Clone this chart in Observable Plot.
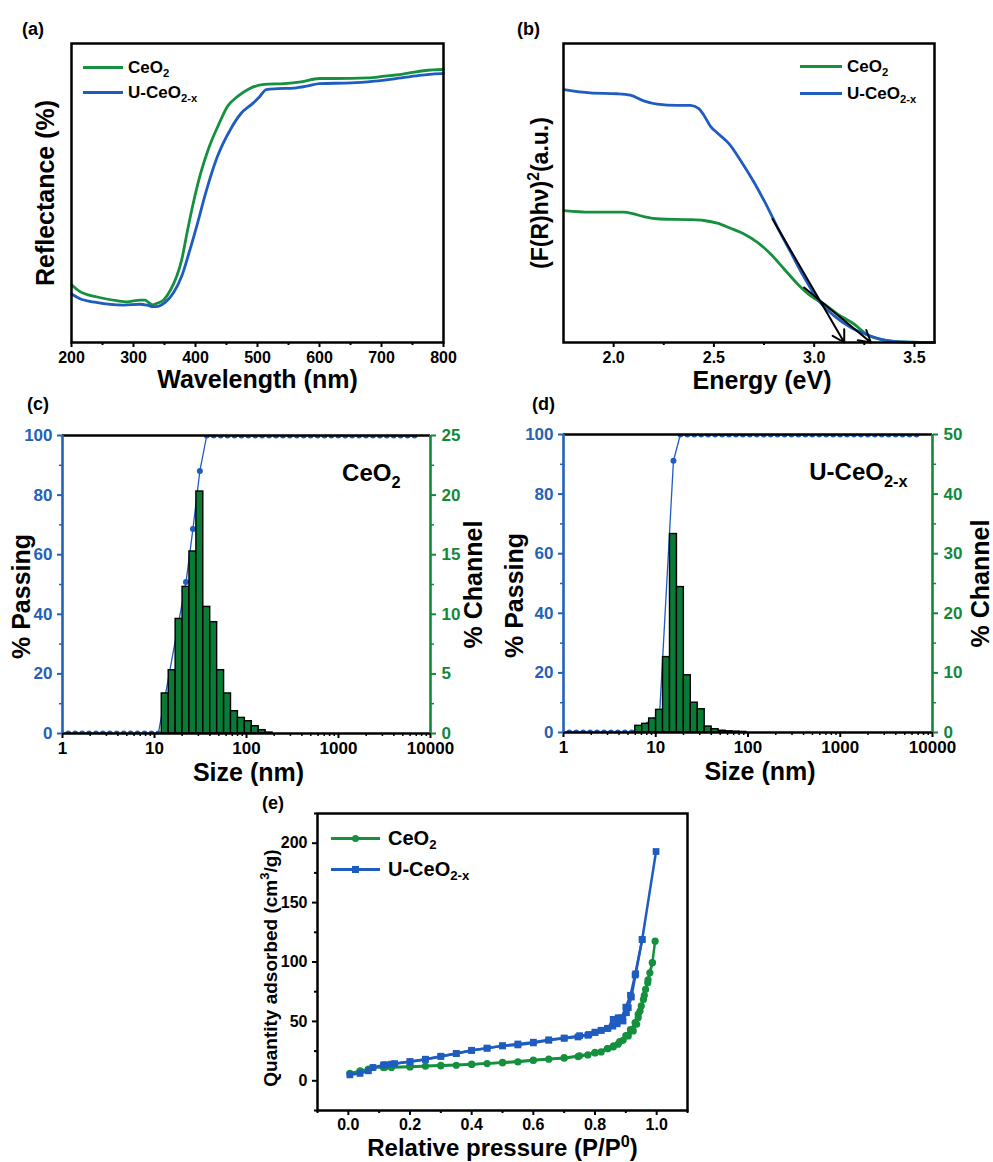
<!DOCTYPE html>
<html><head><meta charset="utf-8">
<script src="https://cdn.jsdelivr.net/npm/d3@7"></script>
<script src="https://cdn.jsdelivr.net/npm/@observablehq/plot@0.6"></script>
<style>
html,body{margin:0;padding:0;background:#fff;}
#fig{position:relative;width:993px;height:1162px;background:#fff;font-family:"Liberation Sans",Arial,Helvetica,sans-serif;font-weight:bold;color:#000;overflow:hidden;}
.tag{position:absolute;font-size:18px;line-height:1;}
.leg{position:absolute;display:flex;align-items:center;white-space:nowrap;line-height:1;height:24px;}
.leg .sw{position:relative;height:3px;flex:none;}
.leg sub{font-size:0.66em;vertical-align:-0.32em;line-height:0;}
</style></head><body><div id="fig"></div>
<script>
// ---------------- DATA ----------------
// (a) Reflectance spectra (arbitrary %, 0 = frame bottom, 100 = frame top)
const waveCe = [200, 213, 240, 273, 289, 311, 319, 324, 331, 338, 349, 359, 370, 378, 386, 395, 408, 422, 438, 451, 468, 486, 511, 543, 570, 600, 624, 678, 705, 732, 765, 797, 800];
const reflCe = [19.3, 17.1, 15.3, 14.0, 13.6, 14.2, 14.2, 13.4, 12.6, 13.1, 14.3, 17.3, 22.3, 27.9, 36.3, 45.3, 56.4, 65.4, 73.2, 78.8, 82.3, 84.8, 86.3, 86.6, 87.2, 88.3, 88.3, 88.5, 89.1, 89.7, 90.8, 91.3, 91.3];
const waveU = [200, 213, 240, 284, 311, 322, 332, 341, 351, 365, 378, 389, 403, 416, 435, 457, 473, 492, 503, 514, 532, 559, 581, 600, 651, 689, 732, 765, 797, 800];
const reflU = [16.2, 14.7, 13.4, 12.5, 12.8, 12.5, 12.0, 12.2, 13.4, 16.8, 22.3, 29.6, 39.7, 49.7, 62.0, 71.5, 76.5, 79.9, 82.1, 84.6, 84.9, 85.1, 85.8, 86.6, 86.8, 87.4, 88.5, 89.4, 89.9, 89.9];

// (b) Tauc plot
const energyU = [1.753, 1.883, 2.017, 2.083, 2.15, 2.217, 2.317, 2.383, 2.425, 2.45, 2.483, 2.517, 2.575, 2.633, 2.7, 2.767, 2.817, 2.883, 2.95, 3.017, 3.1, 3.183, 3.267, 3.35, 3.467, 3.6];
const taucU = [84.6, 83.5, 83.2, 82.7, 80.8, 79.7, 79.3, 79.3, 78.2, 76.0, 72.3, 70.1, 66.5, 60.9, 53.6, 45.3, 38.5, 30.2, 21.8, 14.5, 8.9, 5.0, 2.5, 0.8, 0.1, 0];
const energyCe = [1.753, 1.883, 2.05, 2.1, 2.15, 2.233, 2.383, 2.45, 2.517, 2.583, 2.65, 2.717, 2.783, 2.85, 2.917, 2.983, 3.05, 3.117, 3.2, 3.267, 3.35, 3.467, 3.6];
const taucCe = [44.1, 43.6, 43.6, 43.0, 42.1, 41.3, 41.1, 40.8, 39.9, 38.2, 36.3, 33.5, 29.6, 24.6, 19.6, 15.6, 12.8, 9.5, 6.1, 2.5, 0.8, 0.1, 0];
// tangent (band-gap extrapolation) arrows
const tangentE1 = [2.792, 2.95];
const tangentA1 = [41.3, 18.4];
const tangentE2 = [3.15, 3.283];
const tangentA2 = [0, 0];

// (c) CeO2 size distribution
const chanSizeC = [13.08, 15.56, 18.5, 22.0, 26.16, 31.11, 37.0, 44.0, 52.33, 62.23, 74.0, 88.0, 104.7, 124.5, 148.0, 176.0];
const chanPctC = [3.36, 5.31, 9.61, 12.30, 15.27, 20.30, 10.62, 9.34, 5.31, 3.36, 1.87, 1.31, 1.03, 0.61, 0.28, 0.08];
const passSizeC = [0.972, 1.156, 1.375, 1.635, 1.945, 2.312, 2.75, 3.27, 3.889, 4.625, 5.5, 6.54, 7.778, 9.249, 11.0, 22.0, 26.16, 31.11, 37.0, 44.0, 52.33, 62.23, 74.0, 88.0, 104.7, 124.5, 148.0, 176.0, 209.3, 248.9, 296.0, 352.0, 418.6, 497.8, 592.0, 704.0, 837.2, 995.6, 1184, 1408, 1674, 1991, 2368, 2816, 3349, 3983, 4736, 5632, 6698];
const passPctC = [0, 0, 0, 0, 0, 0, 0, 0, 0, 0, 0, 0, 0, 0, 0, 50.8, 68.6, 88.1, 100, 100, 100, 100, 100, 100, 100, 100, 100, 100, 100, 100, 100, 100, 100, 100, 100, 100, 100, 100, 100, 100, 100, 100, 100, 100, 100, 100, 100, 100, 100];

// (d) U-CeO2-x size distribution
const chanSizeD = [6.54, 7.778, 9.249, 11.0, 13.08, 15.56, 18.5, 22.0, 26.16, 31.11, 37.0, 44.0, 52.33, 62.23, 74.0, 88.0];
const chanPctD = [1.12, 1.45, 2.35, 3.8, 12.65, 33.3, 24.4, 9.6, 5.0, 3.9, 1.0, 0.55, 0.3, 0.2, 0.15, 0.1];
const passSizeD = [0.972, 1.156, 1.375, 1.635, 1.945, 2.312, 2.75, 3.27, 3.889, 4.625, 5.5, 11.0, 15.56, 18.5, 22.0, 26.16, 31.11, 37.0, 44.0, 52.33, 62.23, 74.0, 88.0, 104.7, 124.5, 148.0, 176.0, 209.3, 248.9, 296.0, 352.0, 418.6, 497.8, 592.0, 704.0, 837.2, 995.6, 1184, 1408, 1674, 1991, 2368, 2816, 3349, 3983, 4736, 5632, 6698];
const passPctD = [0, 0, 0, 0, 0, 0, 0, 0, 0, 0, 0, 6, 91.2, 100, 100, 100, 100, 100, 100, 100, 100, 100, 100, 100, 100, 100, 100, 100, 100, 100, 100, 100, 100, 100, 100, 100, 100, 100, 100, 100, 100, 100, 100, 100, 100, 100, 100, 100];

// (e) N2 isotherms
const ceAdsP = [0.005, 0.038, 0.065, 0.08, 0.114, 0.14, 0.2, 0.25, 0.3, 0.35, 0.4, 0.45, 0.5, 0.55, 0.6, 0.65, 0.7, 0.745, 0.777, 0.8, 0.82, 0.842, 0.859, 0.875, 0.891, 0.908, 0.924, 0.935, 0.94, 0.946, 0.957, 0.964, 0.971, 0.978, 0.986, 0.995];
const ceAdsQ = [6.2, 8.4, 9.8, 11.2, 11.2, 11.2, 11.7, 12.3, 12.6, 13.1, 13.7, 14.5, 15.1, 15.9, 17.1, 18.2, 19.0, 20.4, 21.8, 23.5, 24.3, 27.1, 28.5, 30.8, 34.1, 37.8, 42.0, 47.6, 53.1, 58.7, 68.5, 76.9, 82.5, 90.9, 99.3, 117.5];
const ceDesP = [0.986, 0.972, 0.96, 0.95, 0.94, 0.93, 0.915, 0.9, 0.88, 0.86, 0.84, 0.8, 0.75, 0.7, 0.6, 0.5, 0.4, 0.3, 0.2, 0.12];
const ceDesQ = [99.5, 85, 72, 63, 56, 49, 43, 38, 33, 29.5, 27, 24, 21, 19.5, 17.5, 15.5, 14, 13, 12, 11.5];
const uAdsP = [0.005, 0.038, 0.065, 0.08, 0.114, 0.14, 0.2, 0.25, 0.3, 0.35, 0.4, 0.45, 0.5, 0.55, 0.6, 0.65, 0.7, 0.745, 0.777, 0.8, 0.82, 0.842, 0.859, 0.875, 0.891, 0.902, 0.908, 0.918, 0.932, 0.953, 0.998];
const uAdsQ = [5.0, 6.2, 8.4, 11.2, 13.4, 14.0, 16.2, 18.2, 20.7, 22.9, 25.7, 27.4, 29.4, 30.2, 31.9, 34.1, 35.8, 36.9, 38.3, 40.6, 42.5, 44.2, 51.7, 53.1, 50.3, 57.3, 61.5, 70.5, 90.1, 118.9, 193];
const uDesP = [0.953, 0.93, 0.915, 0.9, 0.886, 0.872, 0.858, 0.84, 0.82, 0.8, 0.78, 0.75, 0.7, 0.65, 0.6, 0.55, 0.5, 0.45, 0.4, 0.35, 0.3, 0.25, 0.2, 0.15, 0.12];
const uDesQ = [119, 89, 72, 62, 53, 48, 46, 44, 42.5, 41, 39, 38, 36, 34.5, 32.5, 31, 29.5, 27.5, 25.5, 23, 20.5, 18, 16, 14.5, 13.5];

// tick labels
const ticksA = [200, 300, 400, 500, 600, 700, 800];
const minorA = [250, 350, 450, 550, 650, 750];
const ticksB = [2.0, 2.5, 3.0, 3.5];
const minorB = [2.25, 2.75, 3.25];
const ticksLog = [1, 10, 100, 1000, 10000];
const ticksPass = [0, 20, 40, 60, 80, 100];
const minorPass = [10, 30, 50, 70, 90];
const ticksEx = [0.0, 0.2, 0.4, 0.6, 0.8, 1.0];
const minorEx = [-0.1, 0.1, 0.3, 0.5, 0.7, 0.9, 1.1];
const ticksEy = [0, 50, 100, 150, 200];
const minorEy = [-25, 25, 75, 125, 175, 225];

// ---------------- STYLE ----------------
const GREEN = "#15903e", BLUE = "#1f5cbf", BAR = "#0a7a36", AXBLUE = "#2461b8", AXGREEN = "#12893a";
const FONT = "'Liberation Sans', Arial, Helvetica, sans-serif";
const fig = document.getElementById("fig");
const baseStyle = {fontFamily: FONT, fontWeight: "bold", fontSize: "16px", background: "transparent", overflow: "visible", color: "black"};
const zip = (xs, ys) => xs.map((x, i) => ({x, y: ys[i]}));
const logMinor = [1, 10, 100, 1000].flatMap(p => [2, 3, 4, 5, 6, 7, 8, 9].map(m => m * p));
const half = Math.pow(2, 1 / 8);

function place(svg, left, top) {
  svg.style.position = "absolute";
  svg.style.left = left + "px";
  svg.style.top = top + "px";
  fig.appendChild(svg);
}
function label(txt, opts) {
  return Plot.text([txt], {text: d => d, fontWeight: "bold", fill: "black", textAnchor: "middle", lineAnchor: "middle", ...opts});
}

// ---------------- (a) ----------------
const plotA = Plot.plot({
  width: 480, height: 400, marginLeft: 71, marginRight: 37, marginTop: 43, marginBottom: 58, style: baseStyle,
  x: {domain: [200, 800], axis: null}, y: {domain: [0, 100], axis: null},
  marks: [
    Plot.line(zip(waveCe, reflCe), {x: "x", y: "y", stroke: GREEN, strokeWidth: 2.8, curve: "monotone-x"}),
    Plot.line(zip(waveU, reflU), {x: "x", y: "y", stroke: BLUE, strokeWidth: 2.8, curve: "monotone-x"}),
    Plot.frame({stroke: "black", strokeWidth: 2.5}),
    Plot.axisX({ticks: ticksA, tickSize: 5, tickPadding: 4, strokeWidth: 2, fontSize: 16, label: null}),
    Plot.axisX({ticks: minorA, tickSize: 3, tickFormat: () => "", strokeWidth: 2, label: null}),
    label("Wavelength (nm)", {frameAnchor: "bottom", dy: 37, fontSize: 25}),
    label("Reflectance (%)", {frameAnchor: "left", dx: -26, rotate: -90, fontSize: 25})
  ]
});
place(plotA, 0, 0);

// ---------------- (b) ----------------
const plotB = Plot.plot({
  width: 513, height: 400, marginLeft: 83, marginRight: 59, marginTop: 43, marginBottom: 58, style: baseStyle,
  x: {domain: [1.75, 3.6], axis: null}, y: {domain: [0, 100], axis: null},
  marks: [
    Plot.line(zip(energyCe, taucCe), {x: "x", y: "y", stroke: GREEN, strokeWidth: 2.8, curve: "monotone-x"}),
    Plot.line(zip(energyU, taucU), {x: "x", y: "y", stroke: BLUE, strokeWidth: 2.8, curve: "monotone-x"}),
    Plot.arrow(tangentE1.map((e, i) => ({x1: e, y1: tangentA1[i], x2: tangentE2[i], y2: tangentA2[i]})),
      {x1: "x1", y1: "y1", x2: "x2", y2: "y2", stroke: "black", strokeWidth: 2, headLength: 10}),
    Plot.frame({stroke: "black", strokeWidth: 2.5}),
    Plot.axisX({ticks: ticksB, tickSize: 5, tickPadding: 4, tickFormat: d3.format(".1f"), strokeWidth: 2, fontSize: 16, label: null}),
    Plot.axisX({ticks: minorB, tickSize: 3, tickFormat: () => "", strokeWidth: 2, label: null}),
    label("Energy (eV)", {frameAnchor: "bottom", dy: 38, dx: 13, fontSize: 25}),
    label("(F(R)hν)²(a.u.)", {frameAnchor: "left", dx: -23, rotate: -90, fontSize: 23})
  ]
});
place(plotB, 480, 0);

// ---------------- (c) & (d) ----------------
function psdPlot({w, h, ml, mr, mt, mb, chanSize, chanPct, passSize, passPct, chanMax, name, pLabelDx, cLabelDx, sizeDx, nameDx}) {
  const k = 100 / chanMax;
  const bars = chanSize.map((s, i) => ({s, v: chanPct[i] * k}));
  const pass = zip(passSize, passPct);
  return Plot.plot({
    width: w, height: h, marginLeft: ml, marginRight: mr, marginTop: mt, marginBottom: mb, style: baseStyle,
    x: {type: "log", domain: [1, 10000], axis: null}, y: {domain: [0, 100], axis: null},
    marks: [
      Plot.line(pass, {x: "x", y: "y", stroke: BLUE, strokeWidth: 1.3, clip: true}),
      Plot.dot(pass, {x: "x", y: "y", r: 3, fill: BLUE, stroke: "none", clip: true}),
      Plot.rect(bars, {x1: d => d.s / half, x2: d => d.s * half, y1: 0, y2: "v", fill: BAR, stroke: "black", strokeWidth: 1.4}),
      Plot.ruleY([100], {stroke: "black", strokeWidth: 2.6}),
      Plot.ruleY([0], {stroke: "black", strokeWidth: 2.6}),
      Plot.ruleX([1], {stroke: AXBLUE, strokeWidth: 2.6}),
      Plot.ruleX([10000], {stroke: AXGREEN, strokeWidth: 2.6}),
      Plot.axisX({ticks: ticksLog, tickFormat: d => String(d), tickSize: 5, tickPadding: 3, strokeWidth: 2, fontSize: 17, label: null}),
      Plot.axisX({ticks: logMinor, tickSize: 3, tickFormat: () => "", strokeWidth: 1.5, label: null}),
      Plot.axisY({ticks: ticksPass, anchor: "left", tickSize: 5, tickPadding: 5, color: AXBLUE, strokeWidth: 2, fontSize: 17, label: null}),
      Plot.axisY({ticks: minorPass, anchor: "left", tickSize: 3, tickFormat: () => "", color: AXBLUE, strokeWidth: 1.5, label: null}),
      Plot.axisY({ticks: ticksPass, anchor: "right", tickSize: 5, tickPadding: 6, tickFormat: d => String(d / k), color: AXGREEN, strokeWidth: 2, fontSize: 17, label: null}),
      Plot.axisY({ticks: minorPass, anchor: "right", tickSize: 3, tickFormat: () => "", color: AXGREEN, strokeWidth: 1.5, label: null}),
      label("Size (nm)", {frameAnchor: "bottom", dy: 39, dx: sizeDx, fontSize: 25}),
      label("% Passing", {frameAnchor: "left", dx: pLabelDx, dy: 12, rotate: -90, fontSize: 25}),
      label("% Channel", {frameAnchor: "right", dx: cLabelDx, rotate: -90, fontSize: 25}),
      label(name, {frameAnchor: "top-right", dx: nameDx, dy: 38, textAnchor: "end", fontSize: 24})
    ]
  });
}
place(psdPlot({w: 490, h: 390, ml: 62, mr: 60, mt: 35, mb: 57, chanSize: chanSizeC, chanPct: chanPctC,
  passSize: passSizeC, passPct: passPctC, chanMax: 25, name: "CeO₂", pLabelDx: -41, cLabelDx: 43, sizeDx: 2, nameDx: -30}), 0, 400);
place(psdPlot({w: 493, h: 390, ml: 63, mr: 61, mt: 34, mb: 58, chanSize: chanSizeD, chanPct: chanPctD,
  passSize: passSizeD, passPct: passPctD, chanMax: 50, name: "U-CeO₂₋ₓ", pLabelDx: -49, cLabelDx: 48, sizeDx: 12, nameDx: -25}), 500, 400);

// ---------------- (e) ----------------
const plotE = Plot.plot({
  width: 460, height: 372, marginLeft: 77, marginRight: 13, marginTop: 23, marginBottom: 52, style: baseStyle,
  x: {domain: [-0.1, 1.1], axis: null}, y: {domain: [-25, 225], axis: null},
  marks: [
    Plot.line(zip(ceAdsP, ceAdsQ), {x: "x", y: "y", stroke: GREEN, strokeWidth: 2.5}),
    Plot.line(zip(ceDesP, ceDesQ), {x: "x", y: "y", stroke: GREEN, strokeWidth: 2.5}),
    Plot.dot(zip(ceAdsP, ceAdsQ).concat(zip(ceDesP, ceDesQ)), {x: "x", y: "y", r: 3.6, fill: GREEN, stroke: "none"}),
    Plot.line(zip(uAdsP, uAdsQ), {x: "x", y: "y", stroke: BLUE, strokeWidth: 2.5}),
    Plot.line(zip(uDesP, uDesQ), {x: "x", y: "y", stroke: BLUE, strokeWidth: 2.5}),
    Plot.dot(zip(uAdsP, uAdsQ).concat(zip(uDesP, uDesQ)), {x: "x", y: "y", r: 3.8, symbol: "square", fill: BLUE, stroke: "none"}),
    Plot.frame({stroke: "black", strokeWidth: 2.5}),
    Plot.axisX({ticks: ticksEx, tickSize: 5, tickPadding: 3, tickFormat: d3.format(".1f"), strokeWidth: 2, fontSize: 16, label: null}),
    Plot.axisX({ticks: minorEx, tickSize: 3, tickFormat: () => "", strokeWidth: 2, label: null}),
    Plot.axisY({ticks: ticksEy, tickSize: 5, tickPadding: 5, strokeWidth: 2, fontSize: 16, label: null}),
    Plot.axisY({ticks: minorEy, tickSize: 3, tickFormat: () => "", strokeWidth: 2, label: null}),
    label("Relative pressure (P/P⁰)", {frameAnchor: "bottom", dy: 38, fontSize: 24}),
    label("Quantity adsorbed (cm³/g)", {frameAnchor: "left", dx: -47, dy: 6, rotate: -90, fontSize: 19})
  ]
});
place(plotE, 240, 790);

// ---------------- sub/superscripts in SVG text ----------------
const SUB = {"₀": "0", "₁": "1", "₂": "2", "₋": "-", "ₓ": "x"};
const SUP = {"⁰": "0", "²": "2", "³": "3"};
fig.querySelectorAll("svg text").forEach(t => {
  const leaves = t.querySelector("tspan") ? [...t.querySelectorAll("tspan")] : [t];
  leaves.forEach(el => {
    const s = el.textContent;
    if (![...s].some(c => SUB[c] || SUP[c])) return;
    const fs = parseFloat(getComputedStyle(el).fontSize) || 16;
    const runs = [];
    for (const c of s) {
      const kind = SUB[c] ? "sub" : SUP[c] ? "sup" : "n";
      const ch = SUB[c] || SUP[c] || c;
      if (runs.length && runs[runs.length - 1].kind === kind) runs[runs.length - 1].s += ch;
      else runs.push({kind, s: ch});
    }
    el.textContent = "";
    let shift = 0;
    for (const r of runs) {
      const ts = document.createElementNS("http://www.w3.org/2000/svg", "tspan");
      const target = r.kind === "sub" ? 0.3 * fs : r.kind === "sup" ? -0.4 * fs : 0;
      ts.setAttribute("dy", (target - shift).toFixed(2));
      shift = target;
      if (r.kind !== "n") ts.setAttribute("font-size", (0.68 * fs).toFixed(1));
      ts.textContent = r.s;
      el.appendChild(ts);
    }
  });
});

// ---------------- panel tags & legends (HTML) ----------------
const tags = [["(a)", 22, 20], ["(b)", 517, 20], ["(c)", 27, 395], ["(d)", 532, 395], ["(e)", 262, 794]];
tags.forEach(([t, x, y]) => {
  const d = document.createElement("div");
  d.className = "tag"; d.textContent = t; d.style.left = x + "px"; d.style.top = y + "px";
  fig.appendChild(d);
});
const legendNames = ["CeO<sub>2</sub>", "U-CeO<sub>2-x</sub>"];
const legendColors = [GREEN, BLUE];
function legend({x, ys, sw, fs, gap, markers}) {
  legendNames.forEach((html, i) => {
    const row = document.createElement("div");
    row.className = "leg";
    row.style.left = x + "px"; row.style.top = (ys[i] - 12) + "px"; row.style.fontSize = fs + "px";
    const s = document.createElement("div");
    s.className = "sw"; s.style.width = sw + "px"; s.style.background = legendColors[i]; s.style.marginRight = gap + "px";
    if (markers) {
      const m = document.createElement("div");
      m.style.cssText = `position:absolute;left:${sw / 2 - 3.5}px;top:-2px;width:7px;height:7px;background:${legendColors[i]};border-radius:${markers[i] === "circle" ? "50%" : "0"}`;
      s.appendChild(m);
    }
    row.appendChild(s);
    const t = document.createElement("span");
    t.innerHTML = html;
    row.appendChild(t);
    fig.appendChild(row);
  });
}
legend({x: 83, ys: [67, 92], sw: 40, fs: 17, gap: 5});
legend({x: 800, ys: [66, 93], sw: 42, fs: 17, gap: 5});
legend({x: 331, ys: [838, 869], sw: 49, fs: 20, gap: 8, markers: ["circle", "square"]});
</script></body></html>
